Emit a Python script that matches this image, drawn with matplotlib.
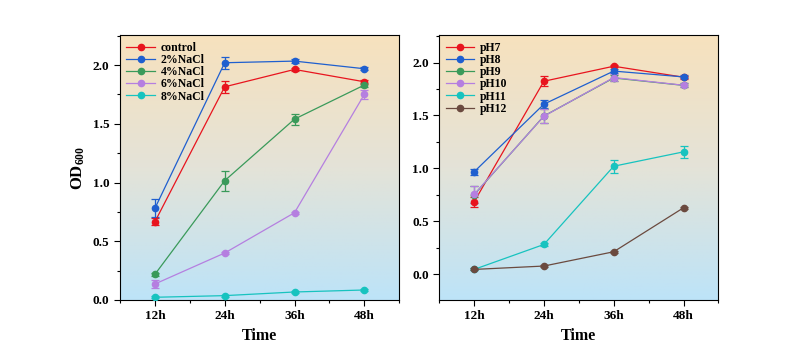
import numpy as np
import matplotlib
matplotlib.use("Agg")
from matplotlib import pyplot as plt
from matplotlib.colors import LinearSegmentedColormap
from matplotlib.lines import Line2D

plt.rcParams['font.family'] = ['Liberation Serif', 'DejaVu Serif']
plt.rcParams['font.weight'] = 'bold'
plt.rcParams['mathtext.fontset'] = 'custom'
plt.rcParams['mathtext.rm'] = 'Liberation Serif:bold'
plt.rcParams['mathtext.it'] = 'Liberation Serif:bold'
plt.rcParams['mathtext.bf'] = 'Liberation Serif:bold'

tiempos = ['12h', '24h', '36h', '48h']

# salinidad
nacl_nombres = ['control', '2%NaCl', '4%NaCl', '6%NaCl', '8%NaCl']
nacl_valores = [
    [0.666, 1.815, 1.963, 1.858],
    [0.780, 2.020, 2.034, 1.969],
    [0.218, 1.016, 1.540, 1.830],
    [0.136, 0.400, 0.743, 1.750],
    [0.023, 0.037, 0.068, 0.085],
]
nacl_error = [
    [0.03, 0.05, 0.012, 0.015],
    [0.077, 0.05, 0.015, 0.015],
    [0.01, 0.085, 0.047, 0.02],
    [0.03, 0.01, 0.01, 0.04],
    [0.01, 0.008, 0.01, 0.01],
]
nacl_colores = ['#e8141e', '#1f5fcf', '#3a9a5a', '#b57fe0', '#17c3bf']

# pH
ph_nombres = ['pH7', 'pH8', 'pH9', 'pH10', 'pH11', 'pH12']
ph_valores = [
    [0.683, 1.824, 1.966, 1.862],
    [0.967, 1.607, 1.920, 1.865],
    [0.750, 1.495, 1.855, 1.785],
    [0.753, 1.493, 1.859, 1.786],
    [0.044, 0.280, 1.020, 1.156],
    [0.044, 0.076, 0.211, 0.627],
]
ph_error = [
    [0.045, 0.045, 0.012, 0.015],
    [0.03, 0.04, 0.02, 0.015],
    [0.08, 0.065, 0.03, 0.02],
    [0.08, 0.065, 0.03, 0.02],
    [0.01, 0.015, 0.06, 0.055],
    [0.01, 0.01, 0.01, 0.01],
]
ph_colores = ['#e8141e', '#1f5fcf', '#3a9a5a', '#b57fe0', '#17c3bf', '#6b4a3f']

fondo = LinearSegmentedColormap.from_list('fondo', ['#bde3f8', '#e4e3d8', '#f7e1bd'])


def dibujar(ax, nombres, valores, errores, colores, ylim, ylabel=None):
    x = np.arange(1, len(tiempos) + 1)
    ax.imshow(np.linspace(0, 1, 256).reshape(-1, 1), cmap=fondo, origin='lower',
              aspect='auto', extent=[0.5, 4.5, ylim[0], ylim[1]], zorder=0)
    handles = []
    for nombre, v, e, c in zip(nombres, valores, errores, colores):
        ax.errorbar(x, v, yerr=e, color=c, marker='o', markersize=4.5, lw=0.9,
                    capsize=3, elinewidth=0.9, capthick=0.9, zorder=3)
        handles.append(Line2D([], [], color=c, marker='o', markersize=4.5, lw=0.9, label=nombre))
    ax.set_xlim(0.5, 4.5)
    ax.set_ylim(*ylim)
    ax.set_xticks(x)
    ax.set_xticklabels(tiempos)
    ax.set_xticks([0.5, 1.5, 2.5, 3.5, 4.5], minor=True)
    ax.set_yticks([0.0, 0.5, 1.0, 1.5, 2.0])
    ax.set_yticks(np.arange(0.25, 2.3, 0.5), minor=True)
    ax.yaxis.set_major_formatter(matplotlib.ticker.FormatStrFormatter('%.1f'))
    ax.tick_params(direction='out', labelsize=9.5, length=4, width=0.8)
    ax.tick_params(which='minor', direction='out', length=2.5, width=0.8)
    ax.set_xlabel('Time', fontsize=11.5, fontweight='bold')
    if ylabel:
        ax.set_ylabel(ylabel, fontsize=12, fontweight='bold')
    ax.legend(handles=handles, loc='upper left', frameon=False, fontsize=8.5,
              handlelength=2.4, labelspacing=0.02, borderaxespad=0.15,
              borderpad=0.4, handletextpad=0.5)


fig = plt.figure(figsize=(8, 3.55), dpi=100)
ax1 = fig.add_axes([0.15, 0.155, 0.349, 0.746])
ax2 = fig.add_axes([0.549, 0.155, 0.349, 0.746])

dibujar(ax1, nacl_nombres, nacl_valores, nacl_error, nacl_colores, (0, 2.255), r'OD$_{600}$')
dibujar(ax2, ph_nombres, ph_valores, ph_error, ph_colores, (-0.245, 2.26))

fig.savefig('out.png', dpi=100)
